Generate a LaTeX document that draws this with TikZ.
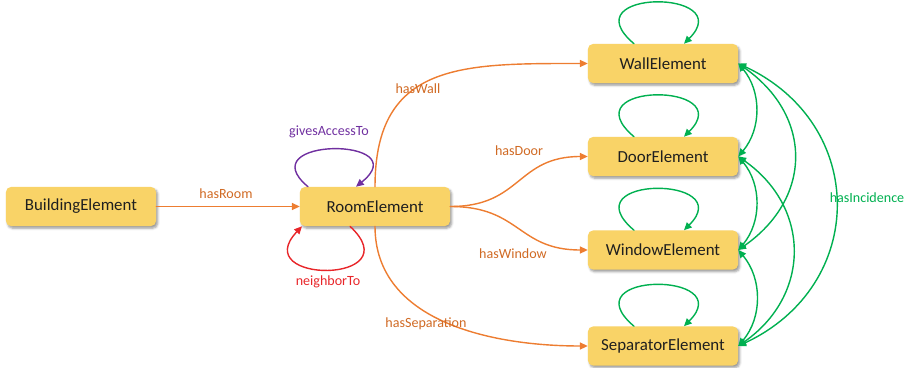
\documentclass[tikz,border=0pt]{standalone}
\usepackage{fontspec}
\setmainfont{Carlito}
\usetikzlibrary{arrows.meta, calc, positioning, shadows.blur}
\definecolor{bxgold}{HTML}{F9D367}
\definecolor{rlorange}{HTML}{ED7D31}
\definecolor{lblorange}{HTML}{D06A24}
\definecolor{rlgreen}{HTML}{00B050}
\definecolor{rlpurple}{HTML}{7030A0}
\definecolor{rlred}{HTML}{E8262A}
\tikzset{
  >={Triangle[length=5.5pt, width=5pt]},
  every picture/.style={line cap=round, line join=round},
  % class boxes
  elem/.style={rectangle, rounded corners=3.5pt, fill=bxgold,
    minimum width=3.75cm, minimum height=0.975cm, inner sep=0pt,
    text=black!88, font=\fontsize{12}{14}\selectfont,
    blur shadow={shadow xshift=1.2pt, shadow yshift=-1.6pt,
      shadow blur radius=1.6pt, shadow opacity=40}},
  % relation edges
  rel/.style={->, line width=1pt, draw=rlorange},
  incid/.style={line width=1pt, draw=rlgreen},
  lbl/.style={font=\fontsize{10}{12}\selectfont, inner sep=1pt},
}

\begin{document}
\begin{tikzpicture}[x=0.025cm, y=-0.025cm]
  \useasboundingbox (0,0) rectangle (914,368);
  % ---- classes
  \node[elem] (bldg)   at (81,206.5) {BuildingElement};
  \node[elem] (room)   at (375,206.5) {RoomElement};
  \node[elem] (wall)   at (663,63.5) {WallElement};
  \node[elem] (door)   at (663,156.5) {DoorElement};
  \node[elem] (window) at (663,250) {WindowElement};
  \node[elem] (sep)    at (663,346) {SeparatorElement};

  % ---- building -> room
  \draw[rel] (bldg.east) -- (room.west);
  \node[lbl, lblorange] (lroom) at (226,194) {hasRoom};

  % ---- room self relations
  \draw[->, line width=1pt, rlpurple] ($(room.north)+(-67,0)$)
    .. controls +(-60,-50) and +(62,-50) .. ($(room.north)+(-19,0)$);
  \node[lbl, rlpurple] (lacc) at (329,132) {givesAccessTo};
  \draw[->, line width=1pt, rlred] ($(room.south)+(-25,0)$)
    .. controls +(62,58) and +(-55,58) .. ($(room.south)+(-73,0)$);
  \node[lbl, rlred] (lnbr) at (328,282) {neighborTo};

  % ---- room -> components
  \draw[rel] (room.north) to[out=90, in=180, looseness=1.3] (wall.west);
  \draw[rel] (room.east) to[out=0, in=180, looseness=1.25] (door.west);
  \draw[rel] (room.east) to[out=0, in=180, looseness=1.25] (window.west);
  \draw[rel] (room.south) to[out=-90, in=180] (sep.west);
  \node[lbl, lblorange] (lwall) at (418,89) {hasWall};
  \node[lbl, lblorange] (ldoor) at (519,151) {hasDoor};
  \node[lbl, lblorange] (lwin)  at (513,254) {hasWindow};
  \node[lbl, lblorange] (lsep)  at (426,324) {hasSeparation};

  % ---- incidence loops on each component
  \foreach \c in {wall, door, window, sep}
    \draw[incid, ->] ($(\c.north)+(-29,0)$)
      .. controls +(-65,-55) and +(55,-55) .. ($(\c.north)+(21,0)$);

  % ---- incidence between components
  \draw[incid, <->] (wall.east) to[bend left=40] (door.east);
  \draw[incid, <->] (wall.east) to[bend left=55, looseness=1.25] (window.east);
  \draw[incid, <->] (wall.east) to[bend left=65, looseness=1.3] (sep.east);
  \draw[incid, <->] (door.east) to[bend left=40] (window.east);
  \draw[incid, <->] (door.east) to[bend left=55, looseness=1.2] (sep.east);
  \draw[incid, <->] (window.east) to[bend left=40] (sep.east);
  \node[lbl, rlgreen] (linc) at (867,198) {hasIncidence};
\end{tikzpicture}
\end{document}
